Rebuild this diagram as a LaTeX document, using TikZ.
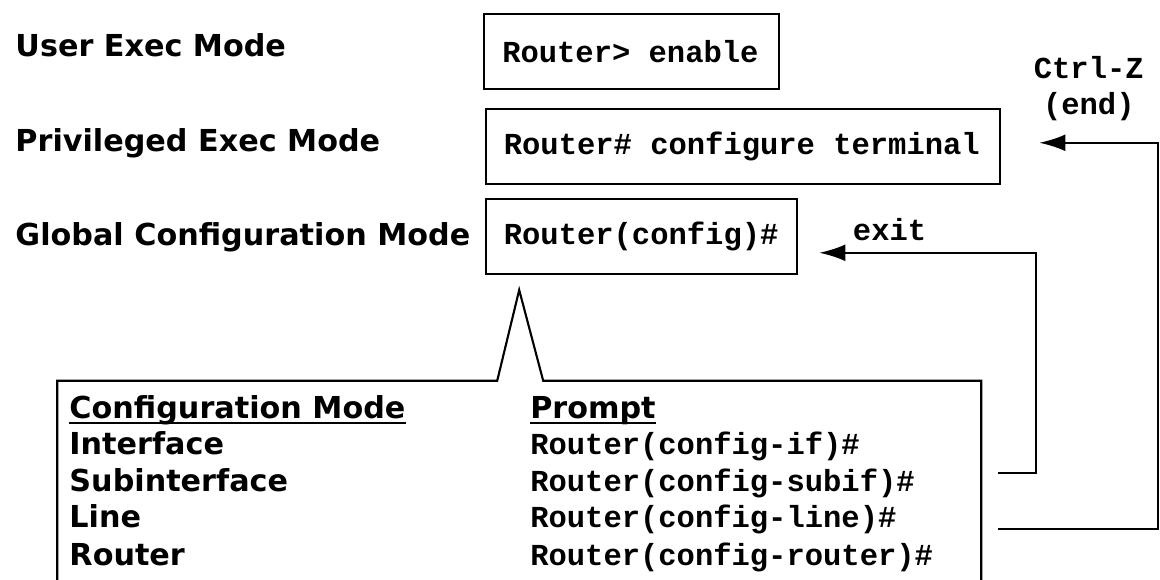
\documentclass[tikz,border=0pt]{standalone}
\usepackage{fontspec}
\setsansfont{DejaVu Sans}
\setmonofont{Liberation Mono}
\usetikzlibrary{arrows.meta,positioning}
\newcommand{\tsp}{\hspace*{0.6em}}
\tikzset{
  modelabel/.style={font=\sffamily\bfseries\fontsize{21.5}{25}\selectfont,anchor=base west,inner sep=0pt},
  cmdbox/.style={draw,line width=1.5pt,font=\ttfamily\bfseries\fontsize{21.7}{26}\selectfont,
    minimum height=1.87cm,inner xsep=0.45cm,anchor=north west,align=left},
  prompt/.style={font=\ttfamily\bfseries\fontsize{21.7}{26}\selectfont,anchor=base west,inner sep=0pt},
  backarrow/.style={line width=1.5pt,-{Latex[length=0.65cm,width=0.42cm]}}
}
\begin{document}
\begin{tikzpicture}
    \clip (0,0) rectangle (29,14.5);
    \fill[white] (0,0) rectangle (29,14.5);
    % modes on the left
    \node[modelabel] (userlbl) at (0.38,13.08) {User Exec Mode};
    \node[modelabel] (privlbl) at (0.38,10.7) {Privileged Exec Mode};
    \node[modelabel] (globlbl) at (0.38,8.35) {Global Configuration Mode};
    % commands
    \node[cmdbox,text width=6.47cm] (userbox) at (12.08,14.18) {Router>\tsp enable};
    \node[cmdbox,text width=11.96cm] (privbox) at (12.12,11.8) {Router\#\tsp configure\tsp terminal};
    \node[cmdbox,text width=6.88cm] (cfgbox) at (12.12,9.55) {Router(config)\#};
    \node[prompt,anchor=base,align=center] (ctrlz) at (27.22,11.63) {Ctrl-Z\\(end)};
    \node[prompt,anchor=base] (exitlbl) at (22.24,8.48) {exit};
    % callout with the sub modes
    \draw[line width=1.5pt] (1.43,-0.5) |- (12.43,4.98) -- (12.98,7.25) -- (13.58,4.98) -| (24.53,-0.5);
    \node[modelabel] (modehead) at (1.73,4.03) {Configuration Mode};
    \node[modelabel] (prompthead) at (13.25,4.03) {Prompt};
    \draw[line width=1.2pt] ([yshift=-0.1cm]modehead.base west) -- ([yshift=-0.1cm]modehead.base east);
    \draw[line width=1.2pt] ([yshift=-0.1cm]prompthead.base west) -- ([yshift=-0.1cm]prompthead.base east);
    \node[modelabel] (iflbl) at (1.73,3.13) {Interface};
    \node[modelabel] (subiflbl) at (1.73,2.2) {Subinterface};
    \node[modelabel] (linelbl) at (1.73,1.3) {Line};
    \node[modelabel] (routerlbl) at (1.73,0.35) {Router};
    \node[prompt] (ifprompt) at (13.25,3.13) {Router(config-if)\#};
    \node[prompt] (subifprompt) at (13.25,2.2) {Router(config-subif)\#};
    \node[prompt] (lineprompt) at (13.25,1.3) {Router(config-line)\#};
    \node[prompt] (routerprompt) at (13.25,0.35) {Router(config-router)\#};
    % way back
    \coordinate (ifend) at (24.95,2.68);
    \coordinate (exitturn) at (25.9,8.18);
    \draw[backarrow] (ifend) -| (exitturn) -- ([xshift=0.53cm]cfgbox.east |- exitturn);
    \coordinate (lineend) at (24.95,1.28);
    \coordinate (ctrlturn) at (28.95,10.93);
    \draw[backarrow] (lineend) -| (ctrlturn) -- ([xshift=0.95cm]privbox.east |- ctrlturn);
\end{tikzpicture}
\end{document}
